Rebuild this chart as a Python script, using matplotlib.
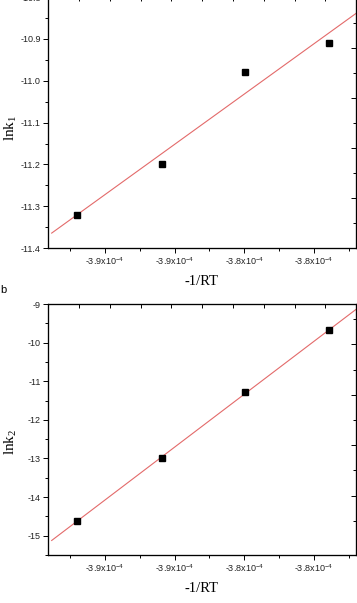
import numpy as np
import matplotlib
matplotlib.use("Agg")
import matplotlib.pyplot as plt
from matplotlib.ticker import FixedLocator, FixedFormatter, NullFormatter

# ---- data ----
x_vals = [-3.9279e-4, -3.9037e-4, -3.8797e-4, -3.8557e-4]   # -1/RT
lnk1 = [-11.32, -11.20, -10.98, -10.91]
lnk2 = [-14.61, -13.00, -11.28, -9.68]
x_ticks = [-3.92e-4, -3.90e-4, -3.88e-4, -3.86e-4]
x_minor = [-3.93e-4, -3.91e-4, -3.89e-4, -3.87e-4, -3.85e-4]
x_ticklabels = ["-3.9x10$^{\\mathregular{-4}}$", "-3.9x10$^{\\mathregular{-4}}$",
                "-3.8x10$^{\\mathregular{-4}}$", "-3.8x10$^{\\mathregular{-4}}$"]
y1_ticks = [-11.4, -11.3, -11.2, -11.1, -11.0, -10.9, -10.8]
y1_labels = ["-11.4", "-11.3", "-11.2", "-11.1", "-11.0", "-10.9", "-10.8"]
y2_ticks = [-15, -14, -13, -12, -11, -10, -9]
y2_labels = ["-15", "-14", "-13", "-12", "-11", "-10", "-9"]

W, H = 357, 603
fig = plt.figure(figsize=(W / 100, H / 100), dpi=100)

SANS = "Liberation Sans"
SERIF = "Liberation Serif"
xlim = (-3.93625e-4, -3.84808e-4)
fit_x0 = -3.9352e-4


def px_axes(l, t, r, b):
    return fig.add_axes([l / W, 1 - b / H, (r - l) / W, (b - t) / H])


def style(ax, y, ylim, yt, ylab, yminor, ylabel, rlim, rmaj, rmin):
    ax.set_xlim(*xlim)
    ax.set_ylim(*ylim)
    ax.plot(x_vals, y, linestyle="none", marker="s", markersize=3.8,
            color="black", zorder=3)
    k, b = np.polyfit(x_vals, y, 1)
    xx = np.array([fit_x0, xlim[1] + 1e-6])
    ax.plot(xx, k * xx + b, color="#e36a6a", lw=0.8, zorder=2)
    ax.xaxis.set_major_locator(FixedLocator(x_ticks))
    ax.xaxis.set_major_formatter(FixedFormatter(x_ticklabels))
    ax.xaxis.set_minor_locator(FixedLocator(x_minor))
    ax.yaxis.set_major_locator(FixedLocator(yt))
    ax.yaxis.set_major_formatter(FixedFormatter(ylab))
    ax.yaxis.set_minor_locator(FixedLocator(yminor))
    ax.tick_params(which="major", direction="out", length=3.6, width=0.7,
                   labelsize=6.5, pad=1.5, top=False, right=False)
    ax.tick_params(which="minor", direction="out", length=2.2, width=0.7,
                   top=False, right=False)
    for lab in ax.get_xticklabels() + ax.get_yticklabels():
        lab.set_fontfamily(SANS)
        lab.set_color("#222222")
    for s in ax.spines.values():
        s.set_linewidth(0.8)
    ax.set_xlabel("-1/RT", fontfamily=SERIF, fontsize=10.5)
    ax.xaxis.set_label_coords(0.5, -0.108)
    ax.set_ylabel(ylabel, fontfamily=SERIF, fontsize=11)
    # right mirrored axis (inward ticks)
    axr = ax.twinx()
    axr.set_ylim(*rlim)
    axr.yaxis.set_major_locator(FixedLocator(rmaj))
    axr.yaxis.set_minor_locator(FixedLocator(rmin))
    axr.yaxis.set_major_formatter(NullFormatter())
    axr.tick_params(which="major", direction="in", length=3.6, width=0.7)
    axr.tick_params(which="minor", direction="in", length=2.2, width=0.7)
    # top mirrored axis (inward ticks)
    axt = ax.twiny()
    axt.set_xlim(-1.0065, 8.984)
    axt.xaxis.set_major_locator(FixedLocator(list(range(9))))
    axt.xaxis.set_major_formatter(NullFormatter())
    axt.tick_params(which="major", direction="in", length=2.6, width=0.7)
    for a in (axr, axt):
        for s in a.spines.values():
            s.set_linewidth(0.8)
    return ax


ax1 = px_axes(48, -2.8, 355.7, 248)
style(ax1, lnk1, (-11.4, -10.8), y1_ticks, y1_labels,
      [-11.35, -11.25, -11.15, -11.05, -10.95, -10.85],
      "$\\mathregular{lnk_1}$", (0, 10.03), [0, 2, 4, 6, 8, 10], [1, 3, 5, 7, 9])
ax1.yaxis.set_label_coords(-0.094, 0.478)

ax2 = px_axes(48, 304, 355.7, 555)
style(ax2, lnk2, (-15.5, -9), y2_ticks, y2_labels,
      [-15.0 + 0.5 + i for i in range(-1, 6)],
      "$\\mathregular{lnk_2}$", (-1.36, 8.60), [1, 3, 5, 7], [0, 2, 4, 6, 8])
ax2.yaxis.set_label_coords(-0.094, 0.45)

fig.text(0.5 / W, 1 - 290 / H, "b", fontfamily=SANS, fontsize=8,
         ha="left", va="center")

fig.savefig("out.png", dpi=100)
